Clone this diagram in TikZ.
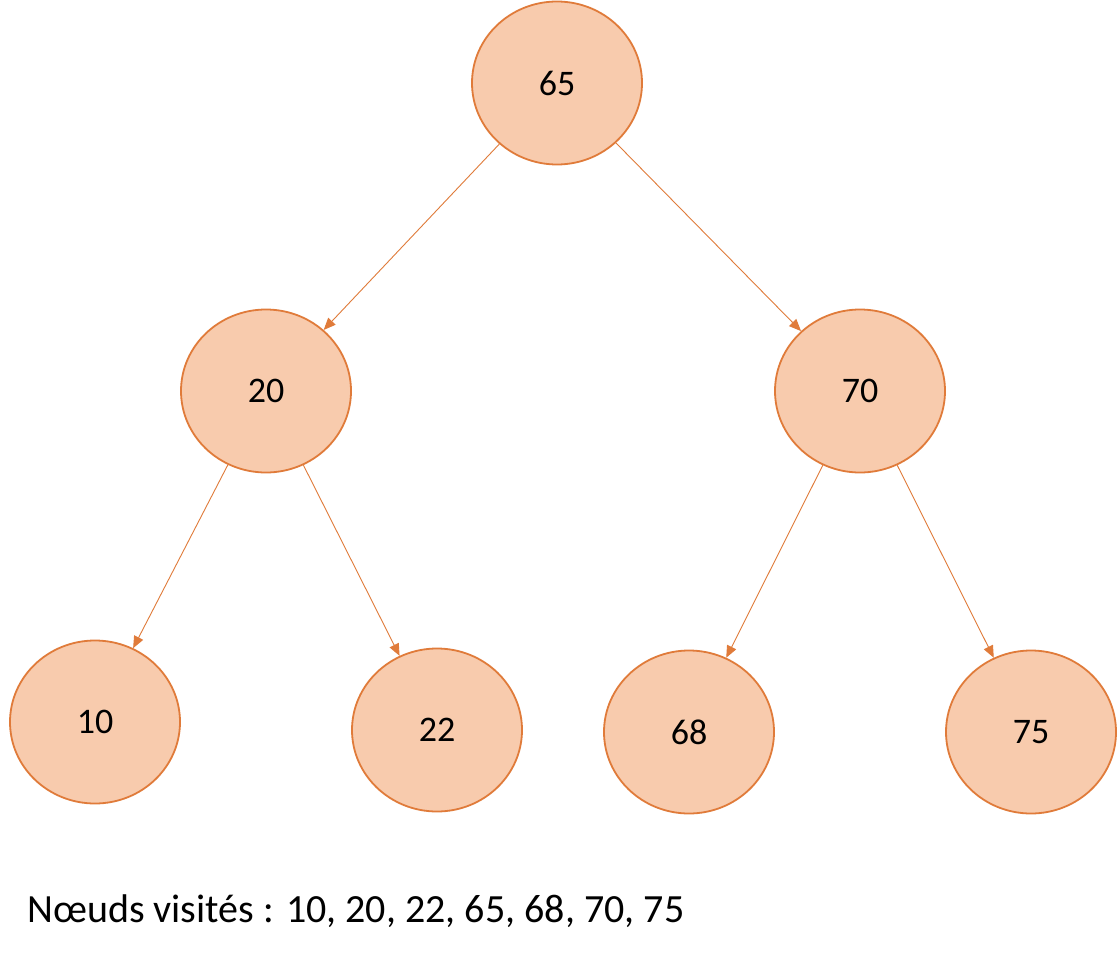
\documentclass[tikz,border=0pt]{standalone}
\usepackage{fontspec}
\setmainfont{Carlito}
\usetikzlibrary{shapes.geometric,arrows.meta}
\definecolor{nfill}{HTML}{F8CBAD}
\definecolor{nline}{HTML}{E07B3A}
\begin{document}
\begin{tikzpicture}[x=1pt,y=-1pt,
  tnode/.style={ellipse,draw=nline,line width=1.8pt,fill=nfill,minimum width=170pt,minimum height=163pt,inner sep=0pt,font=\fontsize{36}{40}\selectfont},
  edge/.style={draw=nline,line width=0.9pt,-{Triangle[length=12pt,width=10pt]}}]
\useasboundingbox (0,0) rectangle (1118,960);
\fill[white] (0,0) rectangle (1118,960);
\node[tnode] (n65) at (557,83) {65};
\node[tnode] (n20) at (266,391) {20};
\node[tnode] (n70) at (860,391) {70};
\node[tnode] (n10) at (95,722) {10};
\node[tnode] (n22) at (437,730) {22};
\node[tnode] (n68) at (689,732) {68};
\node[tnode] (n75) at (1031,732) {75};
\draw[edge] (n65) -- (n20);
\draw[edge] (n65) -- (n70);
\draw[edge] (n20) -- (n10);
\draw[edge] (n20) -- (n22);
\draw[edge] (n70) -- (n68);
\draw[edge] (n70) -- (n75);
\node[anchor=base west,font=\fontsize{40}{44}\selectfont,inner sep=0pt] (cap) at (27,922) {Nœuds visités : 10, 20, 22, 65, 68, 70, 75};
\end{tikzpicture}
\end{document}
